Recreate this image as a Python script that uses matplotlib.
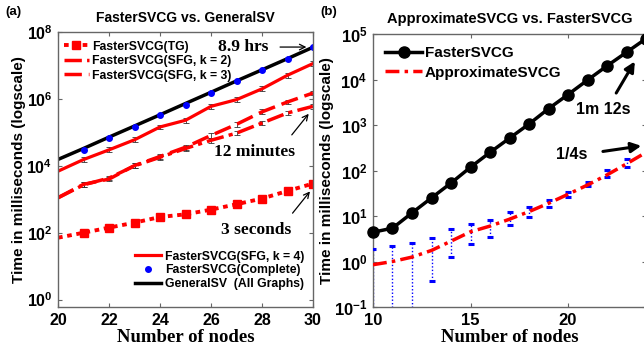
import matplotlib
matplotlib.use("Agg")
import matplotlib.pyplot as plt
import numpy as np

# ---------------- data: panel (a) ----------------
nodes_a = [20, 21, 22, 23, 24, 25, 26, 27, 28, 29, 30]
tg = [71, 100, 142, 200, 295, 355, 490, 710, 1050, 1770, 2950]
sfg_k2 = [1100, 2700, 4300, 10000, 18000, 33000, 58000, 95000, 190000, 380000, 600000]
sfg_k3 = [1120, 2800, 4000, 10200, 19000, 36000, 81000, 174000, 410000, 810000, 1500000]
sfg_k4 = [6900, 15400, 30000, 60000, 145000, 230000, 600000, 950000, 2000000, 5100000, 11400000]
nodes_complete = [21, 22, 23, 24, 25, 26, 27, 28, 29, 30]
complete = [29000, 67000, 145000, 320000, 680000, 1500000, 3400000, 7200000, 16000000, 35000000]
general_sv = [15500, 33000, 72000, 155000, 335000, 730000, 1580000, 3450000, 7400000, 16000000, 35000000]

# ---------------- data: panel (b) ----------------
nodes_b = [10, 11, 12, 13, 14, 15, 16, 17, 18, 19, 20, 21, 22, 23, 24]
faster_b = [4.4, 5.4, 11.7, 25, 53, 118, 250, 513, 1050, 2280, 4660, 9700, 19900, 39600, 79000]
approx_b = [0.85, 1.0, 1.25, 1.75, 2.8, 4.5, 6.0, 8.5, 12.5, 19, 30, 48, 80, 140, 250]
nodes_err = [10, 11, 12, 13, 14, 15, 16, 17, 18, 19, 20, 21, 22, 23]
err_low = [0.01, 0.01, 0.01, 0.37, 1.27, 2.4, 3.5, 6.2, 9.5, 16, 26.7, 45, 71, 118]
err_high = [1.9, 2.2, 2.6, 3.3, 5.2, 6.7, 8.1, 12, 15.5, 22.4, 33.4, 57, 101, 181]

W, H = 644, 348
fig = plt.figure(figsize=(W / 100, H / 100), dpi=100)

SANS = "Liberation Sans"
SERIF = "Liberation Serif"
spine_col = "#666666"


def px_axes(l, r, t, b):
    return fig.add_axes([l / W, 1 - b / H, (r - l) / W, (b - t) / H])


def style_axes(ax, size):
    for s in ax.spines.values():
        s.set_color(spine_col)
        s.set_linewidth(1.0)
    ax.tick_params(which="both", direction="in", top=True, right=True,
                   color=spine_col, length=3, width=0.8, pad=4)
    ax.tick_params(which="minor", length=0)
    for lab in ax.get_xticklabels() + ax.get_yticklabels():
        lab.set_fontfamily(SANS)
        lab.set_fontweight("bold")
        lab.set_fontsize(size)


# ======================= panel (a) =======================
axa = px_axes(58, 313, 32, 307)
axa.set_yscale("log")
axa.set_xlim(20, 30)
axa.set_ylim(10 ** -0.22, 1e8)
axa.set_xticks([20, 22, 24, 26, 28, 30])
axa.set_yticks([1e0, 1e2, 1e4, 1e6, 1e8])

red = "#ff0000"
l_tg, = axa.plot(nodes_a, tg, linestyle=(0, (1.2, 1.2)), color=red, lw=2.8,
                 marker="s", markersize=6, markevery=list(range(1, 11)),
                 label="FasterSVCG(TG)")
l_k2, = axa.plot(nodes_a, sfg_k2, linestyle=(0, (5, 1.5, 1.2, 1.5)), color=red, lw=2.5,
                 label="FasterSVCG(SFG, k = 2)")
l_k3, = axa.plot(nodes_a, sfg_k3, linestyle=(0, (5, 2)), color=red, lw=2.5,
                 label="FasterSVCG(SFG, k = 3)")
l_gen, = axa.plot(nodes_a, general_sv, color="black", lw=2.5,
                  label="GeneralSV  (All Graphs)")
l_k4, = axa.plot(nodes_a, sfg_k4, color=red, lw=2.3, label="FasterSVCG(SFG, k = 4)")
l_comp, = axa.plot(nodes_complete, complete, linestyle="none", marker="o", color="blue",
                   markersize=4, label="FasterSVCG(Complete)")

# small error bars
for series in (tg, sfg_k2, sfg_k3, sfg_k4):
    y = np.array(series, dtype=float)
    axa.errorbar(nodes_a[1:], y[1:], yerr=[y[1:] * 0.15, y[1:] * 0.18], fmt="none",
                 ecolor="#333333", elinewidth=0.6, capsize=2.5, capthick=0.6, zorder=1)

leg_prop = {"family": SANS, "weight": "bold", "size": 8.8}
leg1 = axa.legend(handles=[l_tg, l_k2, l_k3], loc="upper left", frameon=False,
                  prop=leg_prop, handlelength=2.0, borderaxespad=0.2,
                  labelspacing=0.2, handletextpad=0.3,
                  bbox_to_anchor=(-0.005, 0.995))
axa.add_artist(leg1)
axa.legend(handles=[l_k4, l_comp, l_gen], loc="lower right", frameon=False,
           prop=leg_prop, handlelength=2.2, borderaxespad=0.3, labelspacing=0.15,
           handletextpad=0.3, bbox_to_anchor=(1.0, 0.03))

serif_kw = dict(family=SERIF, weight="bold", fontsize=12.5, ha="center", va="center")
axa.text(27.25, 10 ** 7.55, "8.9 hrs", **serif_kw)
axa.annotate("", xy=(29.85, 10 ** 7.55), xytext=(28.6, 10 ** 7.55),
             arrowprops=dict(arrowstyle="->", color="black", lw=0.9))
axa.text(27.7, 10 ** 4.41, "12 minutes", **serif_kw)
axa.annotate("", xy=(29.9, 10 ** 5.62), xytext=(29.1, 10 ** 4.86),
             arrowprops=dict(arrowstyle="->", color="black", lw=0.9))
axa.text(27.76, 10 ** 2.07, "3 seconds", **serif_kw)
axa.annotate("", xy=(29.95, 10 ** 3.3), xytext=(29.13, 10 ** 2.52),
             arrowprops=dict(arrowstyle="->", color="black", lw=0.9))

axa.set_title("FasterSVCG vs. GeneralSV", fontfamily=SANS, fontweight="bold",
              fontsize=10, pad=7)
axa.set_xlabel("Number of nodes", fontfamily=SERIF, fontweight="bold", fontsize=13.5,
               labelpad=1)
axa.set_ylabel("Time in milliseconds (logscale)", fontfamily=SANS, fontweight="bold",
               fontsize=11, labelpad=0)
style_axes(axa, 11.5)
fig.text(5 / W, 1 - 12 / H, "(a)", fontfamily=SANS, fontweight="bold", fontsize=9.5,
         va="center")

# ======================= panel (b) =======================
axb = px_axes(373, 646, 34, 307)
axb.set_yscale("log")
axb.set_xlim(10, 24)
axb.set_ylim(1e-1, 1e5)
axb.set_xticks([10, 15, 20])
axb.set_yticks([1e-1, 1e0, 1e1, 1e2, 1e3, 1e4, 1e5])

axb.vlines(nodes_err, err_low, err_high, colors="blue", linestyles=(0, (1, 1.5)),
           lw=1.0, zorder=2)
axb.plot(nodes_err, err_low, linestyle="none", marker="_", markersize=4.5,
         markeredgewidth=2.2, color="blue", zorder=3)
axb.plot(nodes_err, err_high, linestyle="none", marker="_", markersize=4.5,
         markeredgewidth=2.2, color="blue", zorder=3)
lb_fast, = axb.plot(nodes_b, faster_b, color="black", lw=2.5, marker="o",
                    markersize=8, label="FasterSVCG", zorder=4, clip_on=False)
lb_app, = axb.plot(nodes_b, approx_b, color=red, lw=2.5,
                   linestyle=(0, (4, 1.5, 1, 1.5)), label="ApproximateSVCG", zorder=4)
axb.legend(handles=[lb_fast, lb_app], loc="upper left", frameon=False,
           prop={"family": SANS, "weight": "bold", "size": 11},
           handlelength=2.4, borderaxespad=0.4, labelspacing=0.35,
           handletextpad=0.2, bbox_to_anchor=(0.0, 1.0))

sans_kw = dict(family=SANS, weight="bold", fontsize=11.5, ha="center", va="center")
axb.text(21.8, 10 ** 3.34, "1m 12s", **sans_kw)
axb.annotate("", xy=(23.5, 10 ** 4.45), xytext=(22.4, 10 ** 3.65),
             arrowprops=dict(arrowstyle="-|>,head_length=0.6,head_width=0.3",
                             color="black", lw=2.2))
axb.text(20.2, 10 ** 2.35, "1/4s", **sans_kw)
axb.annotate("", xy=(23.9, 10 ** 2.55), xytext=(21.65, 10 ** 2.41),
             arrowprops=dict(arrowstyle="-|>,head_length=0.6,head_width=0.3",
                             color="black", lw=2.2))

axb.set_title("ApproximateSVCG vs. FasterSVCG", fontfamily=SANS, fontweight="bold",
              fontsize=10.5, pad=8)
axb.set_xlabel("Number of nodes", fontfamily=SERIF, fontweight="bold", fontsize=13.5,
               labelpad=1)
axb.set_ylabel("Time in milliseconds (logscale)", fontfamily=SANS, fontweight="bold",
               fontsize=11, labelpad=0)
style_axes(axb, 12)
fig.text(320 / W, 1 - 12 / H, "(b)", fontfamily=SANS, fontweight="bold", fontsize=9.5,
         va="center")

fig.savefig("out.png", dpi=100)
